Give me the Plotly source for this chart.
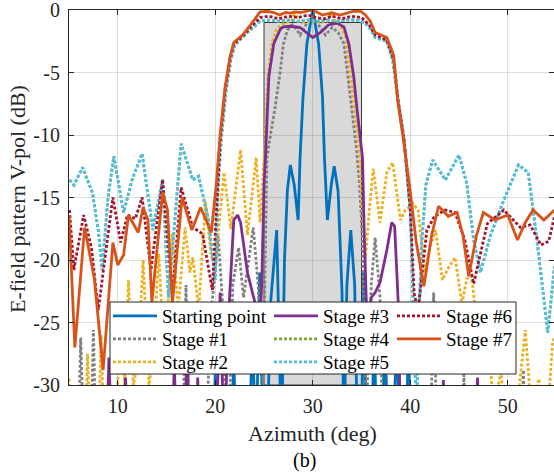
import plotly.graph_objects as go

# ---------------- data ----------------
x_start = [5.0, 19.6, 20.0, 20.4, 21.4, 21.9, 22.4, 23.3, 23.8, 24.2, 24.55, 24.9, 25.3, 25.7, 26.3, 26.8,
           27.1, 27.4, 27.7, 28.1, 28.5, 28.7, 29.0, 29.4, 30.0, 30.6, 31.0, 31.2, 31.5, 31.9, 32.2, 32.6,
           33.0, 33.2, 33.5, 33.9, 34.3, 34.6, 35.0, 35.2, 35.5, 36.0, 36.3, 36.6, 37.1, 37.4, 37.7, 38.2,
           38.6, 39.0, 39.5, 39.8, 40.2, 55.0]
y_start = [-40, -40, -29, -40, -40, -28, -40, -40, -26, -35, -21, -35, -35, -23.2, -17.6, -35,
           -20, -14.4, -12.4, -14, -16.8, -11.8, -7.0, -2.7, 0.0, -2.7, -7.0, -11.8, -16.8, -14, -12.5, -14.5,
           -22.5, -35, -22, -17.6, -22, -35, -35, -21, -35, -35, -26, -35, -35, -25, -35, -35,
           -26.5, -35, -35, -27.5, -35, -40]

x_stage1 = [5.0, 5.8, 6.2, 6.7, 7.1, 7.5, 7.9, 16.5, 17.0, 17.5, 18.8, 19.5, 20.3, 20.8, 21.2, 21.8,
            22.4, 22.9, 23.9, 24.4, 24.9, 25.1, 25.3, 25.7, 26.1, 26.6, 27.0, 27.4, 27.9, 28.3, 28.7, 29.3,
            30.0, 30.6, 31.3, 32.0, 32.6, 33.2, 33.6, 34.0, 34.5, 34.8, 35.1, 35.5, 36.0, 36.4, 36.9, 37.3,
            41.9, 42.4, 42.9, 45.1, 45.5, 45.9, 51.2, 51.6, 52.0, 55.0]
y_stage1 = [-40, -40, -26.2, -40, -40, -25.6, -40, -40, -22, -40, -40, -25, -18.1, -24, -40, -22,
            -19, -23, -17.4, -22, -30, -20, -11.8, -9.8, -8.0, -5.3, -2.7, -1.6, -1.2, -1.5, -2.0, -1.2,
            -0.4, -1.2, -2.0, -1.4, -1.8, -2.7, -5.3, -8.0, -11.2, -14, -18.4, -32, -22, -18.2, -23, -40,
            -40, -22.6, -40, -40, -29, -40, -40, -28.8, -40, -40]

x_stage2 = [5.0, 5.5, 6.5, 6.9, 7.4, 7.8, 8.3, 8.8, 9.5, 10.3, 10.7, 11.1, 11.6, 12.1, 12.6, 13.2,
            13.6, 14.2, 14.8, 15.6, 16.2, 16.9, 17.4, 17.7, 18.3, 19.0, 19.6, 20.1, 20.9, 21.6, 22.6, 23.3,
            24.2, 24.6, 25.0, 25.4, 25.8, 26.3, 26.6, 27.2, 27.8, 28.2, 28.5, 29.2, 30.0, 30.8, 31.5, 31.9,
            32.3, 32.9, 33.4, 33.9, 34.3, 34.8, 35.0, 35.4, 35.8, 36.2, 36.9, 37.6, 38.2, 38.7, 39.0, 39.5,
            40.3, 40.8, 41.5, 42.0, 42.6, 43.3, 44.0, 44.6, 45.3, 45.8, 46.3, 47.1, 47.9, 48.5, 49.3, 50.0,
            50.6, 51.2, 51.8, 52.4, 53.2, 53.8, 54.6, 55.0]
y_stage2 = [-29.5, -40, -40, -27.5, -40, -40, -26, -40, -40, -23.7, -30, -21.6, -30, -28, -20, -30,
            -28, -19.5, -28, -17.9, -24, -17.4, -21, -19.8, -24, -15.3, -19.8, -19.5, -13, -17.5, -11.2, -18,
            -11.8, -17, -11.8, -5.3, -2.7, -1.5, -1.3, -1.0, -0.9, -0.1, -0.9, -1.0, -0.9, -1.0, -0.9, -0.1,
            -0.9, -1.3, -2.2, -5.3, -8.0, -11.8, -14.4, -20, -16, -12.7, -17, -13, -12.2, -15, -16.8, -16,
            -15.5, -16, -21, -19, -17.6, -21.6, -20.5, -19.8, -23.5, -21.5, -21.3, -27, -23.7, -32, -29, -34,
            -32, -30, -25.6, -32, -29.5, -36, -26.5, -26]

x_stage3 = [5.0, 8.6, 9.1, 9.6, 10.4, 10.8, 11.2, 15.3, 15.8, 16.3, 16.7, 17.1, 17.6, 17.9, 18.2, 18.6,
            19.9, 20.5, 20.9, 21.4, 21.9, 22.3, 22.6, 23.3, 24.1, 24.5, 24.8, 25.0, 25.15, 25.5, 26.0, 26.7,
            27.0, 27.7, 28.7, 29.4, 30.0, 30.8, 31.6, 32.5, 33.2, 33.7, 34.2, 34.55, 35.1, 35.3, 35.6, 36.0,
            36.4, 36.9, 37.6, 38.1, 38.4, 38.8, 39.1, 43.0, 43.4, 43.8, 46.5, 46.9, 47.3, 55.0]
y_stage3 = [-40, -40, -27.8, -40, -40, -29.4, -40, -40, -28.5, -40, -40, -26.5, -40, -40, -29.4, -40,
            -40, -22.6, -35, -24, -16.8, -16.4, -17, -21, -23.5, -28, -21, -14, -11.8, -5.3, -2.7, -1.5,
            -1.35, -1.3, -1.4, -1.8, -2.2, -1.8, -1.2, -1.05, -1.35, -2.7, -5.3, -8.0, -11.8, -18.4, -26, -23,
            -22.6, -21.8, -19.2, -17.0, -17.3, -24, -40, -40, -29.6, -40, -40, -29.4, -40, -40]

x_stage5 = [5.05, 5.5, 6.4, 7.4, 8.0, 8.4, 9.0, 9.6, 10.6, 11.5, 12.5, 13.6, 14.6, 15.2, 16.5, 17.7,
            18.3, 19.3, 20.0, 20.3, 20.6, 21.1, 21.6, 22.0, 22.9, 23.7, 24.6, 25.5, 26.5, 27.5, 28.5, 29.5,
            30.5, 31.5, 32.5, 33.5, 34.5, 35.3, 35.9, 36.4, 37.6, 38.2, 38.7, 39.3, 39.8, 40.0, 40.4, 40.6,
            40.8, 41.1, 41.6, 42.3, 43.6, 45.0, 45.8, 46.5, 47.2, 48.2, 49.6, 51.1, 52.1, 53.0, 54.1, 54.8]
y_stage5 = [-13.6, -14, -12.6, -14.6, -17.6, -20.8, -15, -11.7, -16.2, -13.5, -11.5, -17.6, -13.5, -23, -10.7, -13.6,
            -13.3, -16.8, -21.6, -14, -10.5, -6.5, -4.0, -2.8, -2.1, -1.5, -0.9, -0.8, -0.9, -0.8, -0.9, -0.8,
            -0.9, -0.8, -0.9, -0.8, -0.8, -1.0, -1.5, -2.2, -2.5, -4.0, -7.0, -10, -14, -16, -26, -32,
            -28, -19.5, -14, -12, -13.6, -11.6, -13.9, -18.4, -21, -18.1, -15.2, -12.4, -13, -18.4, -25.8, -20.5]

x_stage4 = list(x_stage5)
y_stage4 = [-13.6, -14, -12.6, -14.6, -17.6, -20.8, -15, -11.7, -16.2, -13.5, -11.5, -17.6, -13.5, -23, -10.7, -13.6,
            -13.3, -16.8, -21.6, -14, -10.5, -6.5, -4.0, -2.8, -2.1, -1.5, -0.9, -0.8, -0.9, -0.8, -0.9, -0.8,
            -0.9, -0.8, -0.9, -0.8, -0.8, -1.0, -1.5, -2.2, -2.5, -4.0, -7.0, -10, -14, -16, -26, -32,
            -28, -19.5, -14, -12, -13.6, -11.6, -13.9, -18.4, -21, -18.1, -15.2, -12.4, -13, -18.4, -25.8, -20.5]

x_stage6 = [5.05, 5.5, 6.5, 7.3, 8.0, 8.7, 9.5, 10.3, 11.0, 11.8, 12.5, 13.4, 14.6, 15.6, 16.5, 17.7,
            18.7, 19.7, 20.1, 20.5, 21.0, 21.5, 21.9, 22.8, 23.6, 24.6, 25.5, 26.5, 27.5, 28.5, 29.5, 30.3,
            31.2, 32.0, 33.0, 34.0, 35.0, 35.8, 36.4, 37.6, 38.3, 38.8, 39.4, 40.0, 40.4, 40.8, 41.7, 42.5,
            43.6, 44.6, 45.6, 46.5, 47.9, 49.6, 51.3, 52.3, 53.4, 54.2, 54.8]
y_stage6 = [-16, -20.8, -16.4, -19, -24, -20, -15, -18.6, -16.4, -16.7, -15, -20.8, -13.6, -22.7, -14.2, -17.4,
            -17.9, -22.4, -16, -10.5, -6.5, -4.0, -2.7, -2.1, -1.4, -0.6, -0.5, -0.7, -0.5, -0.6, -0.4, -0.6,
            -0.7, -0.5, -0.7, -0.5, -0.6, -1.2, -2.0, -2.4, -4.0, -7.5, -10.5, -16, -22.7, -24, -17.6, -16.5,
            -16, -16.2, -18.4, -21.9, -17.1, -16, -17.4, -17.2, -18.8, -18.5, -16.5]

x_stage7 = [5.0, 5.6, 6.6, 7.6, 8.5, 9.5, 10.0, 10.6, 11.1, 12.1, 12.6, 13.1, 13.5, 14.6, 15.1, 15.6,
            16.6, 17.6, 18.5, 19.6, 20.1, 20.5, 21.0, 21.5, 21.9, 22.8, 23.6, 24.6, 25.3, 26.0, 26.6, 27.2,
            27.7, 28.2, 28.7, 29.4, 30.0, 30.5, 31.0, 31.6, 32.1, 32.8, 33.4, 34.2, 34.9, 35.4, 35.9, 36.4,
            37.0, 37.6, 38.3, 38.7, 39.3, 40.0, 40.6, 41.4, 42.2, 42.9, 43.9, 44.8, 45.4, 46.0, 46.8, 47.5,
            48.7, 50.0, 51.0, 51.8, 52.6, 53.7, 54.8]
y_stage7 = [-16.4, -27, -17.4, -21.5, -28.8, -18.6, -20.4, -19.6, -16.4, -17.8, -15.8, -16.8, -23.4, -14.6, -16.0, -23.5,
            -15.0, -17.6, -15.8, -17.8, -14, -10, -6.2, -3.8, -2.6, -2.0, -1.2, -0.15, -0.1, -0.2, -0.4, -0.2,
            -0.25, -0.15, -0.2, -0.1, 0.0, -0.2, -0.4, -0.3, -0.25, -0.4, -0.25, -0.1, -0.1, -0.4, -0.9, -1.8,
            -2.0, -2.2, -3.6, -7.2, -10.4, -14.5, -18.5, -22.1, -18, -15.7, -16.5, -16.2, -18, -21.3, -18, -16.2,
            -16.8, -16.4, -18.4, -17, -16.0, -16.8, -16.0]

series_names = ["Starting point", "Stage #1", "Stage #2", "Stage #3",
                "Stage #4", "Stage #5", "Stage #6", "Stage #7"]
series_colors = ["#0072BD", "#808080", "#EDB120", "#7E2F8E",
                 "#77AC30", "#4DBEEE", "#A2142F", "#D95319"]
series_dash = ["solid", "3px,2px", "3px,2px", "solid",
               "3px,2px", "3px,2px", "3px,2px", "solid"]
series_x = [x_start, x_stage1, x_stage2, x_stage3, x_stage4, x_stage5, x_stage6, x_stage7]
series_y = [y_start, y_stage1, y_stage2, y_stage3, y_stage4, y_stage5, y_stage6, y_stage7]

target_az = [25, 35]       # shaded target sector (deg)
target_level = [-30, -1]   # dB

x_ticks = [10, 20, 30, 40, 50]
x_tick_labels = ["10", "20", "30", "40", "50"]
y_ticks = [-30, -25, -20, -15, -10, -5, 0]
y_tick_labels = ["-30", "-25", "-20", "-15", "-10", "-5", "0"]

# ---------------- figure ----------------
FONT = "'Liberation Serif', 'Times New Roman', Times, serif"
W, H = 554, 475
ML, MR, MT, MB = 69, 0, 10, 90
PW = W - ML - MR
PH = H - MT - MB


def px_x(p):  # page pixel -> paper coordinate
    return (p - ML) / PW


def px_y(p):
    return (H - MB - p) / PH


# legend layout: (column text-start x, row centre y) in page pixels
leg_cols = [162, 323, 446]
leg_rows = [316, 339, 362]
ITEMW = 44

fig = go.Figure()
layout_legends = {}
for i in range(len(series_names)):
    lname = "legend" if i == 0 else "legend%d" % (i + 1)
    col, row = i // 3, i % 3
    layout_legends[lname] = dict(
        x=px_x(leg_cols[col] - ITEMW - 10), y=px_y(leg_rows[row]),
        xanchor="left", yanchor="middle",
        bgcolor="rgba(0,0,0,0)", borderwidth=0, itemwidth=ITEMW,
        font=dict(family=FONT, size=19, color="black"))
    fig.add_trace(go.Scatter(
        x=series_x[i], y=series_y[i], mode="lines", name=series_names[i],
        line=dict(color=series_colors[i], width=2.8, dash=series_dash[i]),
        legend=lname, hoverinfo="skip"))

fig.add_shape(type="rect", xref="x", yref="y",
              x0=target_az[0], x1=target_az[1], y0=target_level[0], y1=target_level[1],
              fillcolor="#d9d9d9", line=dict(color="#3a3a3a", width=1), layer="below")

# legend frame
fig.add_shape(type="rect", xref="paper", yref="paper",
              x0=px_x(110), x1=px_x(516), y0=px_y(374), y1=px_y(302),
              fillcolor="white", line=dict(color="#262626", width=1), layer="above")

axis_common = dict(showline=True, linecolor="#262626", linewidth=1, mirror="allticks",
                   ticks="inside", ticklen=5, tickcolor="#262626", tickwidth=1,
                   showgrid=True, gridcolor="rgba(38,38,38,0.15)", gridwidth=1,
                   zeroline=False, ticklabeloverflow="allow",
                   tickfont=dict(family=FONT, size=20, color="#262626"))

fig.update_xaxes(range=[5, 5 + PW / 9.75], tickvals=x_ticks, ticktext=x_tick_labels,
                 ticklabelstandoff=3, **axis_common)
fig.update_yaxes(range=[-30, 0], tickvals=y_ticks, ticktext=y_tick_labels,
                 ticklabelstandoff=4, **axis_common)

fig.add_annotation(text="Azimuth (deg)", xref="paper", yref="paper", x=px_x(312), y=px_y(433),
                   xanchor="center", yanchor="middle", showarrow=False,
                   font=dict(family=FONT, size=22, color="#262626"))
fig.add_annotation(text="(b)", xref="paper", yref="paper", x=px_x(304), y=px_y(460),
                   xanchor="center", yanchor="middle", showarrow=False,
                   font=dict(family=FONT, size=20, color="black"))
fig.add_annotation(text="E-field pattern V-pol (dB)", xref="paper", yref="paper", x=px_x(17), y=px_y(199),
                   xanchor="center", yanchor="middle", showarrow=False, textangle=-90,
                   font=dict(family=FONT, size=22, color="#262626"))

fig.update_layout(width=W, height=H, margin=dict(l=ML, r=MR, t=MT, b=MB, pad=0),
                  font=dict(family=FONT, color="#262626"),
                  plot_bgcolor="white", paper_bgcolor="white", showlegend=True,
                  **layout_legends)

# remove the browser's default 8px body margin so the figure fills the window
fig.write_html("out.html", config={"displayModeBar": False},
               post_script="document.body.style.margin='0';")
